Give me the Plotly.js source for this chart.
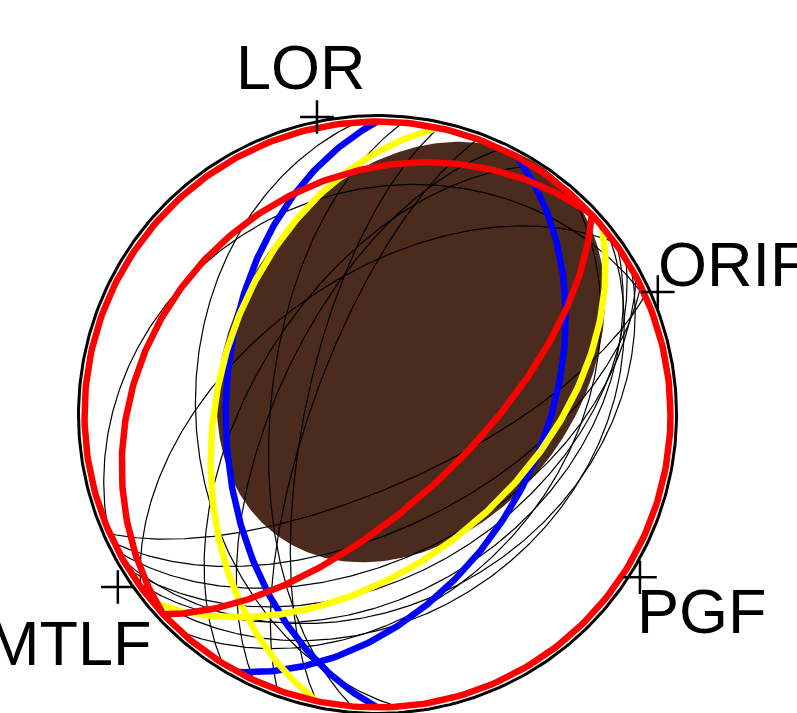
<!DOCTYPE html>
<html>
<head>
<meta charset="utf-8">
<script src="https://cdn.plot.ly/plotly-3.0.1.min.js"></script>
<style>html,body{margin:0;padding:0;background:#fff;overflow:hidden}</style>
</head>
<body>
<div id="chart" style="width:797px;height:713px"></div>
<script>
// ---- data: fault planes (strike, dip; right-hand rule) ----
const blackStrikes = [66, 64, 62, 58, 55, 60, 52, 247, 234, 212, 205, 200, 176, 185, 192, 42];
const blackDips    = [70, 58, 50, 45, 40, 36, 33, 25, 52, 55, 62, 72, 38, 60, 70, 38];
const blueStrikes   = [180, 28.5];
const blueDips      = [47, 44];
const yellowStrikes = [192, 50];
const yellowDips    = [44, 49];
const redStrikes    = [227, 47];
const redDips       = [22, 65];
// ---- fault labels ----
const labelNames    = ['LOR', 'ORIF', 'PGF', 'MTLF'];
const labelAzimuths = [348.5, 66.4, 121.8, 236.4];
const labelRadii    = [1.036, 1.044, 1.054, 1.064];
// ---- shaded region (ellipse) ----
const regionCenter = [0.114, 0.213];
const regionAxes   = [0.775, 0.594];
const regionAngle  = 54;

const D2R = Math.PI / 180;
function greatCircle(strike, dip) {
  const s = strike * D2R, d = dip * D2R, dd = s + Math.PI / 2;
  const sv = [Math.sin(s), Math.cos(s), 0];
  const dv = [Math.cos(d) * Math.sin(dd), Math.cos(d) * Math.cos(dd), Math.sin(d)];
  const xs = [], ys = [];
  const n = 241;
  for (let i = 0; i < n; i++) {
    const t = Math.PI * i / (n - 1);
    const v = [0, 1, 2].map(k => Math.cos(t) * sv[k] + Math.sin(t) * dv[k]);
    const p = Math.asin(Math.max(-1, Math.min(1, v[2])));
    const tr = Math.atan2(v[0], v[1]);
    const r = Math.SQRT2 * Math.sin(Math.PI / 4 - p / 2);
    xs.push(r * Math.sin(tr)); ys.push(r * Math.cos(tr));
  }
  return {xs, ys};
}
function circle(r) {
  const xs = [], ys = [];
  for (let i = 0; i <= 360; i++) { xs.push(r * Math.cos(i * D2R)); ys.push(r * Math.sin(i * D2R)); }
  return {xs, ys};
}
function ellipse(c, ax, ang) {
  const xs = [], ys = [], a = ang * D2R;
  for (let i = 0; i <= 360; i++) {
    const t = i * D2R, u = ax[0] * Math.cos(t), w = ax[1] * Math.sin(t);
    xs.push(c[0] + u * Math.cos(a) - w * Math.sin(a));
    ys.push(c[1] + u * Math.sin(a) + w * Math.cos(a));
  }
  return {xs, ys};
}

const traces = [];
const el = ellipse(regionCenter, regionAxes, regionAngle);
traces.push({x: el.xs, y: el.ys, mode: 'lines', fill: 'toself', fillcolor: '#4c2b1f', line: {width: 0, color: '#4c2b1f'}, hoverinfo: 'skip'});

function addSet(strikes, dips, color, width) {
  strikes.forEach((s, i) => {
    const g = greatCircle(s, dips[i]);
    traces.push({x: g.xs, y: g.ys, mode: 'lines', line: {color, width}, hoverinfo: 'skip'});
  });
}
addSet(blackStrikes, blackDips, '#000000', 1.2);
const prim = circle(1.0205);
traces.push({x: prim.xs, y: prim.ys, mode: 'lines', line: {color: '#000', width: 3}, hoverinfo: 'skip'});
addSet(blueStrikes, blueDips, '#0000ff', 6.5);
addSet(yellowStrikes, yellowDips, '#ffff00', 6.5);
const redPrim = circle(1.0);
traces.push({x: redPrim.xs, y: redPrim.ys, mode: 'lines', line: {color: '#ff0000', width: 6.5}, hoverinfo: 'skip'});
addSet(redStrikes, redDips, '#ff0000', 6.5);

const lx = labelAzimuths.map((a, i) => labelRadii[i] * Math.sin(a * D2R));
const ly = labelAzimuths.map((a, i) => labelRadii[i] * Math.cos(a * D2R));
traces.push({x: lx, y: ly, mode: 'markers', marker: {symbol: 'cross-thin', size: 24, color: '#000', line: {color: '#000', width: 2.5}}, hoverinfo: 'skip'});

const shifts = [
  {xanchor: 'center', xshift: -16, yshift: 50},
  {xanchor: 'left', xshift: -2, yshift: 28},
  {xanchor: 'left', xshift: -5, yshift: -34},
  {xanchor: 'right', xshift: 35, yshift: -56}
];
const annotations = labelNames.map((t, i) => ({
  x: lx[i], y: ly[i], xref: 'x', yref: 'y', text: t, showarrow: false,
  xanchor: shifts[i].xanchor, yanchor: 'middle', xshift: shifts[i].xshift, yshift: shifts[i].yshift,
  font: {family: 'Liberation Sans, Arial, sans-serif', size: 63, color: '#000'}
}));

const layout = {
  width: 797, height: 713,
  margin: {l: 0, r: 0, t: 0, b: 0, pad: 0},
  paper_bgcolor: '#fff', plot_bgcolor: '#fff',
  showlegend: false,
  xaxis: {range: [-1.2884, 1.4317], visible: false, fixedrange: true},
  yaxis: {range: [-1.0188, 1.4147], visible: false, fixedrange: true},
  annotations
};
Plotly.newPlot('chart', traces, layout, {displayModeBar: false, staticPlot: true});
</script>
</body>
</html>
